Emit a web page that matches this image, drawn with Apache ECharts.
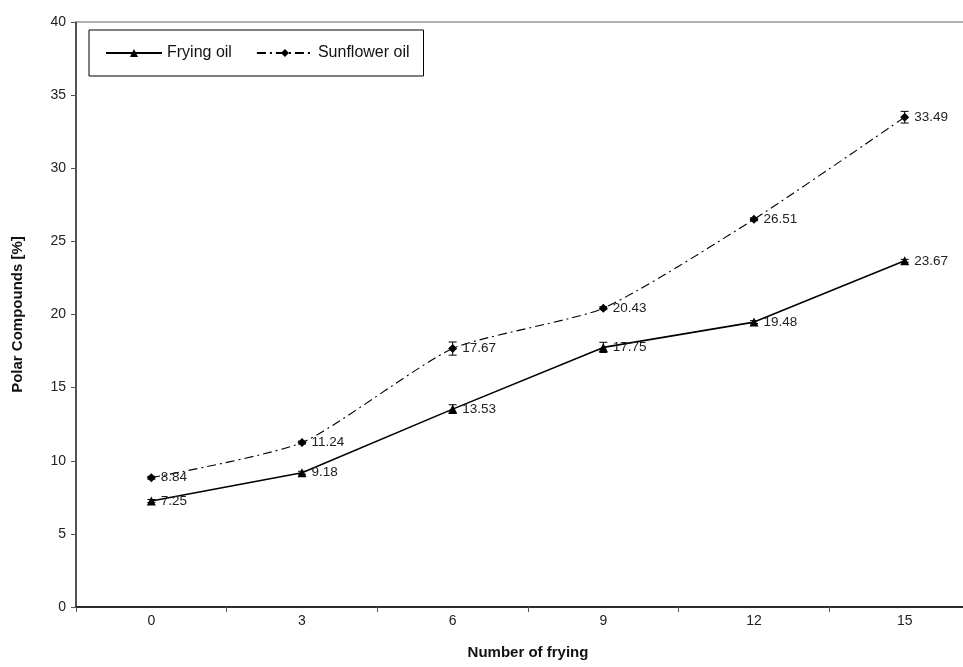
<!DOCTYPE html>
<html>
<head>
<meta charset="utf-8">
<script src="https://cdn.jsdelivr.net/npm/echarts@6/dist/echarts.min.js"></script>
<style>html,body{margin:0;padding:0;background:#fff}#c{width:963px;height:667px}</style>
</head>
<body>
<div id="c"></div>
<script>
const categories = ['0', '3', '6', '9', '12', '15'];
const fryingOil = [7.25, 9.18, 13.53, 17.75, 19.48, 23.67];
const fryingErr = [0.1, 0.1, 0.3, 0.35, 0.1, 0.1];
const sunflowerOil = [8.84, 11.24, 17.67, 20.43, 26.51, 33.49];
const sunflowerErr = [0.1, 0.1, 0.45, 0.1, 0.1, 0.4];

const chart = echarts.init(document.getElementById('c'));
const font = 'Liberation Sans, Arial, sans-serif';

function errSeries(vals, errs) {
  return {
    type: 'custom',
    silent: true,
    z: 1,
    data: vals.map((v, i) => [i, v - errs[i], v + errs[i]]),
    renderItem: function (params, api) {
      const x = api.value(0);
      const lo = api.coord([x, api.value(1)]);
      const hi = api.coord([x, api.value(2)]);
      const hw = 4;
      const st = { stroke: '#000', lineWidth: 1 };
      return {
        type: 'group',
        children: [
          { type: 'line', shape: { x1: lo[0], y1: lo[1], x2: hi[0], y2: hi[1] }, style: st },
          { type: 'line', shape: { x1: lo[0] - hw, y1: lo[1], x2: lo[0] + hw, y2: lo[1] }, style: st },
          { type: 'line', shape: { x1: hi[0] - hw, y1: hi[1], x2: hi[0] + hw, y2: hi[1] }, style: st }
        ]
      };
    }
  };
}

const labelStyle = {
  show: true, position: 'right', distance: 5,
  color: '#222', fontSize: 13.5, fontFamily: font,
  formatter: p => p.value.toFixed(2)
};

chart.setOption({
  animation: false,
  backgroundColor: '#fff',
  textStyle: { fontFamily: font },
  grid: { left: 76, width: 904, top: 22, bottom: 60, outerBoundsMode: 'none', containLabel: false, show: true, borderColor: '#666', borderWidth: 1, backgroundColor: 'transparent' },
  legend: {
    left: 89, top: 30,
    padding: [15, 14, 15, 16],
    borderColor: '#000', borderWidth: 1,
    itemWidth: 56, itemHeight: 10, itemGap: 24,
    textStyle: { fontSize: 16, color: '#111', fontFamily: font },
    data: ['Frying oil', 'Sunflower oil']
  },
  xAxis: {
    type: 'category',
    data: categories,
    boundaryGap: true,
    name: 'Number of frying',
    nameLocation: 'middle',
    nameGap: 38,
    nameTextStyle: { fontSize: 15, fontWeight: 'bold', color: '#111', fontFamily: font },
    axisLine: { lineStyle: { color: '#000', width: 1.5 } },
    axisTick: { show: true, length: 5, lineStyle: { color: '#555' } },
    axisLabel: { fontSize: 14, color: '#222', margin: 7, fontFamily: font },
    splitLine: { show: false }
  },
  yAxis: {
    type: 'value',
    min: 0, max: 40, interval: 5,
    name: 'Polar Compounds [%]',
    nameLocation: 'middle',
    nameGap: 51,
    nameTextStyle: { fontSize: 15, fontWeight: 'bold', color: '#111', fontFamily: font },
    axisLine: { show: true, lineStyle: { color: '#333', width: 1.5 } },
    axisTick: { show: true, length: 5, lineStyle: { color: '#555' } },
    axisLabel: { fontSize: 14, color: '#222', margin: 10, fontFamily: font },
    splitLine: { show: false }
  },
  series: [
    errSeries(fryingOil, fryingErr),
    errSeries(sunflowerOil, sunflowerErr),
    {
      name: 'Frying oil',
      type: 'line',
      data: fryingOil,
      symbol: 'triangle',
      symbolSize: 9,
      itemStyle: { color: '#000' },
      lineStyle: { color: '#000', width: 1.6 },
      label: labelStyle,
      z: 3
    },
    {
      name: 'Sunflower oil',
      type: 'line',
      data: sunflowerOil,
      smooth: 0.2,
      symbol: 'diamond',
      symbolSize: 9,
      itemStyle: { color: '#000' },
      lineStyle: { color: '#000', width: 1.1, type: [9, 4, 2, 4] },
      label: labelStyle,
      z: 3
    }
  ]
});
</script>
</body>
</html>
